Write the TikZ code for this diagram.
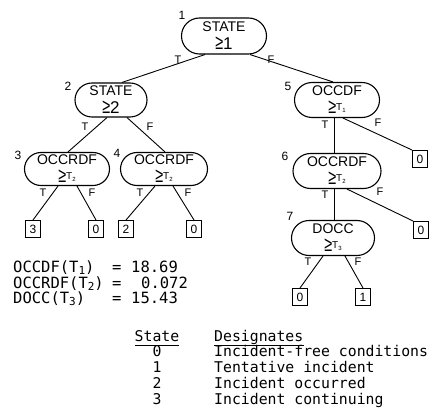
\documentclass[tikz,border=0pt]{standalone}
\usepackage{graphicx}
\usepackage{fontspec}
\setmainfont{Liberation Sans}
\newfontfamily\monofont{DejaVu Sans Mono}
\usetikzlibrary{shapes.misc,calc}
\newcommand\bigge{{\fontsize{16}{16}\selectfont\scalebox{0.9}[1.3]{≥}}}
\newcommand\thrsh[1]{\bigge\raisebox{3pt}{\fontsize{10}{10}\selectfont T\raisebox{-1.5pt}{\fontsize{6}{6}\selectfont #1}}}
\newcommand\gebig[1]{\bigge{\fontsize{17}{17}\selectfont #1}}
\newcommand\lsub[1]{T\raisebox{-2.5pt}{\fontsize{11}{11}\selectfont #1}}
\tikzset{
 test/.style={rounded rectangle, draw, line width=1.1pt, inner sep=0pt, align=center, font=\fontsize{14}{18}\selectfont},
 leaf/.style={draw, line width=1pt, minimum width=15pt, minimum height=17pt, inner sep=0pt, font=\fontsize{12}{12}\selectfont},
 tf/.style={font=\fontsize{11}{11}\selectfont, inner sep=0pt},
 num/.style={font=\fontsize{12}{12}\selectfont, inner sep=0pt},
 edge/.style={line width=0.9pt},
 legend/.style={font=\monofont\fontsize{15.5}{15.5}\selectfont, inner sep=0pt, anchor=base west},
 tab/.style={font=\monofont\fontsize{14.8}{14.8}\selectfont, inner sep=0pt},
 uline/.style={line width=1pt},
}
\begin{document}
\begin{tikzpicture}[x=1pt,y=-1pt]
\useasboundingbox (0,0) rectangle (431,417);
% decision nodes
\node[test, minimum width=85pt, minimum height=36pt] (n1) at (224,36) {STATE\\\gebig{1}};
\node[test, minimum width=72pt, minimum height=34pt] (n2) at (111,100) {STATE\\\gebig{2}};
\node[test, minimum width=85pt, minimum height=33pt] (n3) at (67,169) {OCCRDF\\\thrsh{2}};
\node[test, minimum width=87pt, minimum height=33pt] (n4) at (164,169) {OCCRDF\\\thrsh{2}};
\node[test, minimum width=85pt, minimum height=35pt] (n5) at (337,100) {OCCDF\\\thrsh{1}};
\node[test, minimum width=88pt, minimum height=35pt] (n6) at (337,171) {OCCRDF\\\thrsh{2}};
\node[test, minimum width=83pt, minimum height=35pt] (n7) at (333,238) {DOCC\\\thrsh{3}};
% node numbers
\node[num] (k1) at (182,15) {1};
\node[num] (k2) at (68,86) {2};
\node[num] (k3) at (18,155) {3};
\node[num] (k4) at (117,153) {4};
\node[num] (k5) at (288,86) {5};
\node[num] (k6) at (285,156) {6};
\node[num] (k7) at (290,216) {7};
% leaves
\node[leaf] (l3) at (33,229) {3};
\node[leaf] (l0a) at (96,229) {0};
\node[leaf] (l2) at (126,229) {2};
\node[leaf] (l0b) at (194,229) {0};
\node[leaf] (l0c) at (420,159) {0};
\node[leaf] (l0d) at (421,230) {0};
\node[leaf] (l0e) at (300,297) {0};
\node[leaf] (l1) at (363,297) {1};
% edges
\draw[edge] ($(n1.south)+(-19,0)$) -- ($(n2.north)+(11,0)$);
\draw[edge] ($(n1.south)+(26,0)$) -- ($(n5.north)+(-4,0)$);
\draw[edge] ($(n2.south)+(-4,0)$) -- ($(n3.north)+(1,0)$);
\draw[edge] ($(n2.south)+(16,0)$) -- ($(n4.north)+(1,0)$);
\draw[edge] ($(n3.south)+(-9,0)$) -- (l3.north);
\draw[edge] ($(n3.south)+(10,0)$) -- (l0a.north);
\draw[edge] ($(n4.south)+(-9,0)$) -- (l2.north);
\draw[edge] ($(n4.south)+(9,0)$) -- (l0b.north);
\draw[edge] ($(n5.south)+(-3,0)$) -- ($(n6.north)+(-3,0)$);
\draw[edge] ($(n5.south)+(6,0)$) -- (l0c.north west);
\draw[edge] ($(n6.south)+(-3,0)$) -- ($(n7.north)+(1,0)$);
\draw[edge] ($(n6.south)+(10,0)$) -- (l0d.north west);
\draw[edge] ($(n7.south)+(-10,0)$) -- (l0e.north);
\draw[edge] ($(n7.south)+(12,0)$) -- (l1.north);
% T/F labels
\node[tf] (t1) at (178,60) {T}; \node[tf] (f1) at (271,60) {F};
\node[tf] (t2) at (85,127) {T}; \node[tf] (f2) at (150,127) {F};
\node[tf] (t3) at (43,193) {T}; \node[tf] (f3) at (92,193) {F};
\node[tf] (t4) at (140,193) {T}; \node[tf] (f4) at (188,193) {F};
\node[tf] (t5) at (325,125) {T}; \node[tf] (f5) at (378,123) {F};
\node[tf] (t6) at (325,195) {T}; \node[tf] (f6) at (380,192) {F};
\node[tf] (t7) at (308,262) {T}; \node[tf] (f7) at (358,262) {F};
% thresholds
\node[legend] (a1) at (13,272) {OCCDF(\lsub{1})};
\node[legend] (a2) at (13,288) {OCCRDF(\lsub{2})};
\node[legend] (a3) at (13,303) {DOCC(\lsub{3})};
\node[legend] (e1) at (112,272) {=};
\node[legend] (e2) at (112,288) {=};
\node[legend] (e3) at (112,303) {=};
\node[legend] (v1) at (131,272) {18.69};
\node[legend] (v2) at (141,288) {0.072};
\node[legend] (v3) at (131,303) {15.43};
% state table
\node[tab, anchor=base] (hs) at (157,341) {State};
\node[tab, anchor=base west] (hd) at (214,341) {Designates};
\draw[uline] ([yshift=-4pt]hs.base west) -- ([yshift=-4pt]hs.base east);
\draw[uline] ([yshift=-4.5pt]hd.base west) -- ([yshift=-4.5pt]hd.base east);
\node[tab, anchor=base] (s0) at (157,356) {0};
\node[tab, anchor=base] (s1) at (157,372) {1};
\node[tab, anchor=base] (s2) at (157,388) {2};
\node[tab, anchor=base] (s3) at (157,404) {3};
\node[tab, anchor=base west] (d0) at (214,356) {Incident-free conditions};
\node[tab, anchor=base west] (d1) at (214,372) {Tentative incident};
\node[tab, anchor=base west] (d2) at (214,388) {Incident occurred};
\node[tab, anchor=base west] (d3) at (214,404) {Incident continuing};
\end{tikzpicture}
\end{document}
